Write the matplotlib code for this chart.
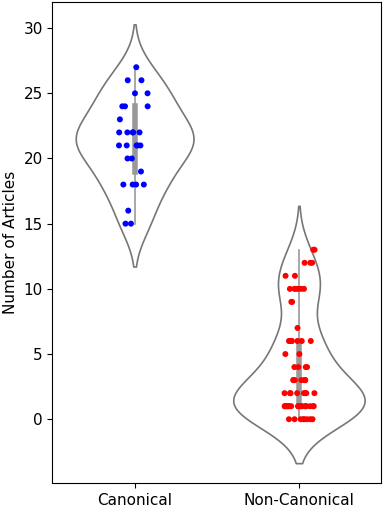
import numpy as np
import pandas as pd
import matplotlib
matplotlib.use("Agg")
import matplotlib.pyplot as plt
import seaborn as sns

categories = ["Canonical", "Non-Canonical"]
canonical = [27, 26, 26, 25, 25, 24, 24, 24, 23,
             22, 22, 22, 22, 22, 21, 21, 21, 21, 21,
             20, 20, 19, 18, 18, 18, 18, 16, 15, 15]
non_canonical = [13, 13, 12, 12, 12, 11, 11,
                 10, 10, 10, 10, 10, 10, 9, 9, 7,
                 6, 6, 6, 6, 6, 6, 6, 5, 5,
                 4, 4, 4, 4, 3, 3, 3, 3, 3, 3, 3,
                 2, 2, 2, 2, 2, 2, 2, 2,
                 1, 1, 1, 1, 1, 1, 1, 1, 1, 1, 1, 1, 1, 1, 1, 1, 1, 1, 1,
                 0, 0, 0, 0, 0, 0, 0, 0]
point_colors = ["blue", "red"]

df = pd.DataFrame({
    "group": [categories[0]] * len(canonical) + [categories[1]] * len(non_canonical),
    "value": canonical + non_canonical,
})

fig = plt.figure(figsize=(3.83, 5.08), dpi=100)
ax = fig.add_axes([0.137, 0.049, 0.858, 0.947])

sns.violinplot(data=df, x="group", y="value", order=categories, color="white",
               linecolor="#777777", linewidth=1.2, inner="box", ax=ax,
               inner_kws=dict(box_width=4, whis_width=1.2, color="#999999", marker=""))
np.random.seed(3)
sns.stripplot(data=df, x="group", y="value", order=categories, hue="group",
              palette=point_colors, size=4.3, jitter=0.1, ax=ax, legend=False, zorder=5)

ax.set_xlim(-0.5, 1.5)
ax.set_ylim(-4.9, 32.0)
ax.set_yticks([0, 5, 10, 15, 20, 25, 30])
ax.set_xlabel("")
ax.set_ylabel("Number of Articles", fontsize=11)
ax.tick_params(labelsize=11)
for s in ax.spines.values():
    s.set_visible(True)
    s.set_color("black")
fig.savefig("out.png", dpi=100)
